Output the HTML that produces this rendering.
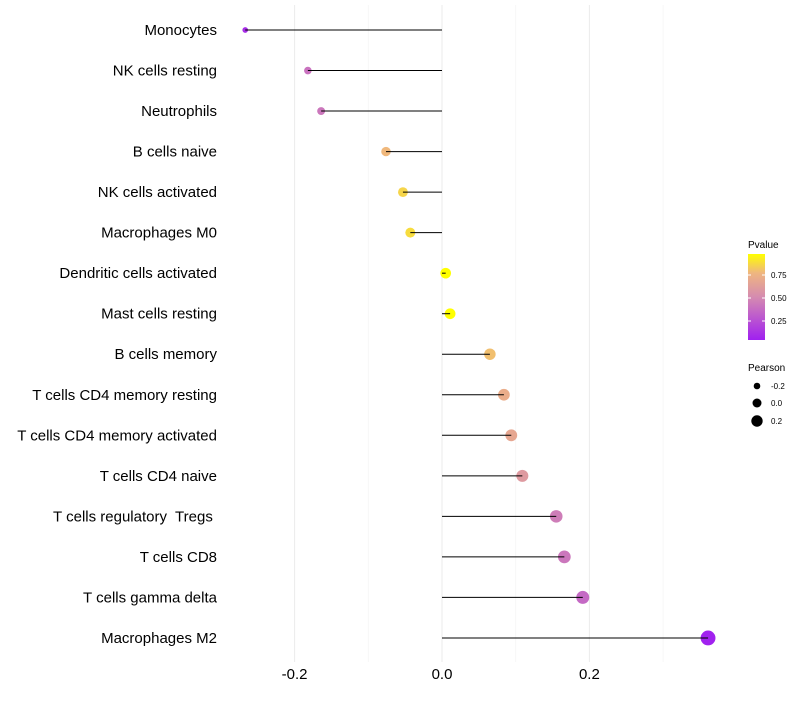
<!DOCTYPE html>
<html><head><meta charset="utf-8"><style>
body{margin:0;background:#fff;font-family:"Liberation Sans",sans-serif}
svg text{font-family:"Liberation Sans",sans-serif;white-space:pre}
</style></head><body>
<svg id="chart" width="800" height="700" viewBox="0 0 800 700">
<defs><linearGradient id="pg" x1="0" y1="1" x2="0" y2="0">
<stop offset="0" stop-color="#a020f0"/><stop offset="0.5" stop-color="#d58bb0"/><stop offset="0.78" stop-color="#efb680"/><stop offset="1" stop-color="#ffff00"/>
</linearGradient></defs>
<g id="grid"></g>
<g id="marks"></g>
<g id="ylab"></g>
<g id="xlab"></g>
<g>
<text x="748" y="248" font-size="10">Pvalue</text>
<rect x="748" y="254" width="17" height="86" fill="url(#pg)"/>
<line x1="748" x2="751" y1="275" y2="275" stroke="#fff"/><line x1="762" x2="765" y1="275" y2="275" stroke="#fff"/>
<line x1="748" x2="751" y1="298" y2="298" stroke="#fff"/><line x1="762" x2="765" y1="298" y2="298" stroke="#fff"/>
<line x1="748" x2="751" y1="321" y2="321" stroke="#fff"/><line x1="762" x2="765" y1="321" y2="321" stroke="#fff"/>
<text x="771" y="278" font-size="8">0.75</text>
<text x="771" y="301" font-size="8">0.50</text>
<text x="771" y="324" font-size="8">0.25</text>
</g>
<g>
<text x="748" y="371" font-size="10">Pearson</text>
<circle cx="757" cy="386" r="3.3" fill="#000"/>
<circle cx="757" cy="403" r="4.5" fill="#000"/>
<circle cx="757" cy="421" r="5.7" fill="#000"/>
<text x="771" y="389" font-size="8">-0.2</text>
<text x="771" y="406" font-size="8">0.0</text>
<text x="771" y="424" font-size="8">0.2</text>
</g>
</svg>
<script>
const cells=["Monocytes","NK cells resting","Neutrophils","B cells naive","NK cells activated","Macrophages M0","Dendritic cells activated","Mast cells resting","B cells memory","T cells CD4 memory resting","T cells CD4 memory activated","T cells CD4 naive","T cells regulatory  Tregs ","T cells CD8","T cells gamma delta","Macrophages M2"];
const pearson=[-0.267,-0.182,-0.164,-0.076,-0.053,-0.043,0.005,0.011,0.065,0.084,0.094,0.109,0.155,0.166,0.191,0.361];
const pvalues=[0.1,0.4,0.42,0.78,0.86,0.88,0.99,0.98,0.8,0.72,0.68,0.6,0.45,0.42,0.36,0.05];
const xTicks=[-0.2,0.0,0.2];
const xTickLabels=["-0.2","0.0","0.2"];
const minorTicks=[-0.1,0.1,0.3];
const NS="http://www.w3.org/2000/svg";
const xS=v=>442+v*737;
const yS=i=>30+i*40.53;
const rS=v=>Math.sqrt(Math.max(4,28+75*v));
function lerp(a,b,t){return a.map((x,k)=>Math.round(x+(b[k]-x)*t));}
function col(p){const stops=[[0,[160,32,240]],[0.5,[213,139,176]],[0.78,[239,182,128]],[1,[255,255,0]]];
 const t=Math.max(0,Math.min(1,(p-0.04)/0.94));
 for(let k=1;k<stops.length;k++){if(t<=stops[k][0]){const a=stops[k-1],b=stops[k];return `rgb(${lerp(a[1],b[1],(t-a[0])/(b[0]-a[0]))})`;}}
 return 'rgb(255,255,0)';}
function mk(tag,at,parent){const e=document.createElementNS(NS,tag);for(const k in at)e.setAttribute(k,at[k]);parent.appendChild(e);return e;}
const grid=document.getElementById('grid'),marks=document.getElementById('marks'),ylab=document.getElementById('ylab'),xlab=document.getElementById('xlab');
minorTicks.forEach(v=>{const l=mk('line',{x1:xS(v),x2:xS(v),y1:5,y2:662,stroke:'#f4f4f4','stroke-width':0.8},grid);

});
xTicks.forEach((v,i)=>{const l=mk('line',{x1:xS(v),x2:xS(v),y1:5,y2:662,stroke:'#ebebeb','stroke-width':1},grid);


const t=mk('text',{x:xS(v),y:679,'font-size':15,'text-anchor':'middle',fill:'#000'},xlab);t.textContent=xTickLabels[i];

});
cells.forEach((c,i)=>{const y=yS(i);
const t=mk('text',{x:217,y:y+5,'font-size':15,'text-anchor':'end',fill:'#000'},ylab);t.textContent=c;


const p=mk('circle',{cx:xS(pearson[i]),cy:y,r:rS(pearson[i]),fill:col(pvalues[i])},marks);


const l=mk('line',{x1:xS(0),x2:xS(pearson[i]),y1:y,y2:y,stroke:'#000','stroke-width':1},marks);

});
</script>
</body></html>
